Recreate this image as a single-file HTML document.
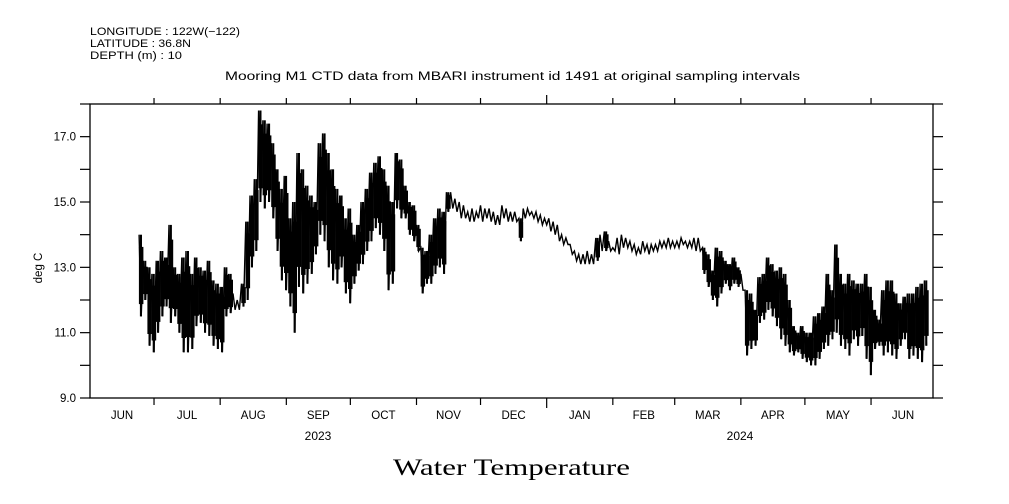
<!DOCTYPE html>
<html><head><meta charset="utf-8"><style>
body{margin:0;background:#fff;}
svg{display:block;font-family:"Liberation Sans",sans-serif;}
</style></head><body>
<svg width="1009" height="504" viewBox="0 0 1009 504" xmlns="http://www.w3.org/2000/svg">
<rect width="1009" height="504" fill="#fff"/>
<g font-size="11" fill="#000">
<text x="90" y="35" textLength="150" lengthAdjust="spacingAndGlyphs">LONGITUDE : 122W(−122)</text>
<text x="90" y="47" textLength="101" lengthAdjust="spacingAndGlyphs">LATITUDE : 36.8N</text>
<text x="90" y="59" textLength="92" lengthAdjust="spacingAndGlyphs">DEPTH (m) : 10</text>
</g>
<text x="225" y="80" textLength="575" lengthAdjust="spacingAndGlyphs" font-size="11.5">Mooring M1 CTD data from MBARI instrument id 1491 at original sampling intervals</text>
<text transform="translate(42,268) rotate(-90)" text-anchor="middle" font-size="11.5">deg C</text>
<text x="393" y="475" textLength="237" lengthAdjust="spacingAndGlyphs" font-family="'Liberation Serif',serif" font-size="23">Water Temperature</text>
<g id="axes"></g>
<g id="series"></g>
</svg>
<script>
const months = ["JUN","JUL","AUG","SEP","OCT","NOV","DEC","JAN","FEB","MAR","APR","MAY","JUN"];
const monthDays = [30,31,31,30,31,30,31,31,29,31,30,31,30];
const years = ["2023","2024"];
const yTicks = [9,10,11,12,13,14,15,16,17,18];
const yLabels = ["9.0","11.0","13.0","15.0","17.0"];
const startDay = 23, stepDays = 2;
const hiVals = [14.0,13.2,13.0,12.8,13.2,13.5,13.3,14.3,13.0,12.8,
13.3,13.5,12.8,13.3,13.0,12.9,13.2,12.6,12.5,12.4,
13.0,12.8,12.2,12.0,12.5,14.4,15.2,15.7,17.8,17.5,
17.4,16.8,16.0,15.4,15.8,14.5,15.0,16.5,16.0,15.5,
15.2,15.0,16.8,17.1,16.5,16.0,15.4,15.2,14.5,14.8,
14.0,14.3,15.0,15.4,15.9,16.2,16.4,16.0,15.5,15.0,
16.5,16.3,15.5,15.0,14.9,14.3,13.6,13.5,14.0,14.5,
14.8,14.7,15.3,15.3,15.1,15.0,14.9,14.7,14.8,14.7,
14.9,14.8,14.8,14.7,14.6,14.9,14.8,14.7,14.7,14.5,
14.8,14.8,14.7,14.7,14.6,14.5,14.5,14.4,14.3,14.0,
13.9,13.7,13.5,13.4,13.4,13.5,13.4,13.9,14.0,14.1,
13.8,13.6,13.9,14.0,13.9,13.8,13.7,13.6,13.8,13.7,
13.7,13.7,13.8,13.8,13.9,13.8,13.8,13.9,13.8,13.8,
13.9,13.9,13.6,13.4,12.9,13.6,13.5,13.2,13.1,13.3,
13.0,12.8,12.3,12.2,11.7,12.7,12.8,13.3,13.1,12.9,
13.0,12.8,12.0,11.2,11.0,11.2,11.0,11.0,11.5,11.6,
11.8,12.8,12.3,13.7,12.8,12.5,12.8,12.6,12.5,12.5,
12.8,12.4,11.7,11.4,12.3,12.6,12.6,12.2,11.9,12.1,
12.2,12.2,12.4,12.5,12.6];
const loVals = [11.5,12.0,10.6,10.4,11.0,11.5,11.8,11.3,11.5,11.0,
10.4,10.4,10.5,11.2,11.3,11.0,10.9,10.6,10.5,10.4,
11.5,11.6,11.7,11.7,11.8,12.0,13.0,13.5,15.0,14.8,
15.0,14.5,13.5,12.6,12.3,11.8,11.0,12.4,12.2,12.5,
12.8,13.4,14.0,13.8,13.0,12.6,12.5,13.0,12.2,11.9,
12.5,12.9,13.1,13.5,13.8,14.2,14.0,13.5,12.3,12.5,
14.8,14.5,14.5,14.0,13.8,13.5,12.2,12.5,12.5,12.8,
13.0,12.8,14.7,14.8,14.7,14.5,14.5,14.4,14.4,14.5,
14.4,14.5,14.4,14.3,14.3,14.5,14.4,14.4,14.4,13.8,
14.5,14.6,14.5,14.4,14.3,14.3,14.1,14.0,13.8,13.7,
13.7,13.4,13.2,13.1,13.1,13.1,13.1,13.2,13.5,13.5,
13.5,13.5,13.4,13.6,13.6,13.5,13.4,13.4,13.5,13.4,
13.5,13.5,13.6,13.6,13.6,13.6,13.6,13.7,13.6,13.6,
13.5,13.5,12.8,12.4,12.0,11.8,12.2,12.5,12.3,12.5,
12.4,12.3,10.3,10.5,10.6,11.3,11.4,11.7,11.5,11.2,
10.8,10.6,10.4,10.3,10.4,10.2,10.1,10.0,10.0,10.2,
10.5,10.6,10.8,11.0,10.6,10.5,10.3,10.8,10.6,10.9,
10.2,9.7,10.5,10.6,10.3,10.4,10.3,10.2,10.6,10.8,
10.2,10.3,10.2,10.1,10.6];

const L=90,R=933,T=104,B=398,yMin=9,yMax=18;
const pxPerDay=2.134;
const xs=d=>L+d*pxPerDay;
const ys=v=>B-(v-yMin)/(yMax-yMin)*(B-T);
const NS="http://www.w3.org/2000/svg";
const axes=document.getElementById('axes');
function mk(tag,attrs,parent){const e=document.createElementNS(NS,tag);for(const k in attrs)e.setAttribute(k,attrs[k]);parent.appendChild(e);return e;}
let fr=mk('rect',{x:L,y:T,width:R-L,height:B-T,fill:'none',stroke:'#000','stroke-width':1.3},axes);


yTicks.forEach(v=>{
  const y=ys(v);
  let t=mk('line',{x1:L-10,x2:L,y1:y,y2:y,stroke:'#000','stroke-width':1.2},axes);
  
  
  let t2=mk('line',{x1:R,x2:R+10,y1:y,y2:y,stroke:'#000','stroke-width':1.2},axes);
  
  
});
yLabels.forEach(s=>{
  let tx=mk('text',{x:L-14,y:ys(parseFloat(s))+4,'text-anchor':'end','font-size':11.5},axes);
  tx.textContent=s;
  
  
});
let d=0;
months.forEach((m,i)=>{
  const mid=d+monthDays[i]/2;
  let tx=mk('text',{x:xs(mid),y:419,'text-anchor':'middle','font-size':11.5},axes);
  tx.textContent=m;
  
  
  d+=monthDays[i];
  if(i<months.length-1){
    const x=xs(d), big=(m==="DEC");
    let a=mk('line',{x1:x,x2:x,y1:B,y2:B+(big?10:7),stroke:'#000','stroke-width':1.2},axes);
    
    
    let b=mk('line',{x1:x,x2:x,y1:T,y2:T-(big?9:6),stroke:'#000','stroke-width':1.2},axes);
    
    
  }
});
[[318,years[0]],[740,years[1]]].forEach(([x,s])=>{
  let tx=mk('text',{x:x,y:440,'text-anchor':'middle','font-size':12},axes);
  tx.textContent=s;
  
  
});
const ser=document.getElementById('series');
const w=stepDays*pxPerDay;
hiVals.forEach((h,i)=>{
  const day=startDay+i*stepDays;
  const lo=loVals[i];
  if(h-lo>0.5){
    const span=h-lo;
    let r=mk('rect',{x:(xs(day)-w*0.05).toFixed(1),y:ys(h-span*0.15).toFixed(1),width:(w*1.05).toFixed(1),height:(ys(lo+span*0.15)-ys(h-span*0.15)).toFixed(1),fill:'#000'},ser);
    
    
    let r2=mk('rect',{x:(xs(day)+w*0.2).toFixed(1),y:ys(h).toFixed(1),width:(w*0.5).toFixed(1),height:(ys(lo)-ys(h)).toFixed(1),fill:'#000'},ser);
    
    
  }
});
const pts=[];
hiVals.forEach((h,i)=>{
  const day=startDay+i*stepDays;
  pts.push(xs(day).toFixed(1)+','+ys(h).toFixed(1));
  pts.push(xs(day+stepDays/2).toFixed(1)+','+ys(loVals[i]).toFixed(1));
});
let pl=mk('polyline',{points:pts.join(' '),fill:'none',stroke:'#000','stroke-width':1.4},ser);


</script>
</body></html>
